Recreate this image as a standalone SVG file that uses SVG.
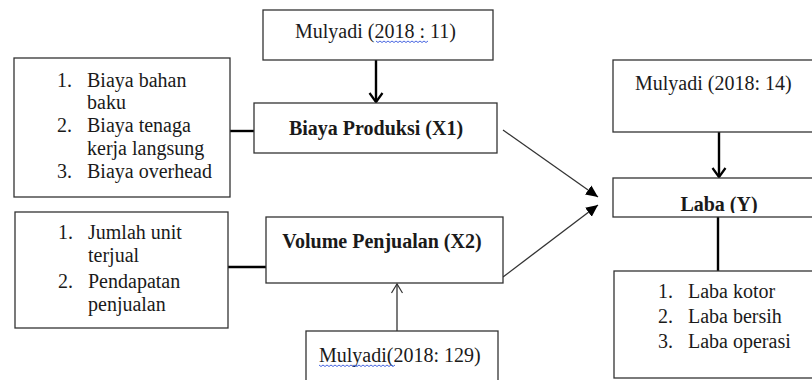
<svg xmlns="http://www.w3.org/2000/svg" width="812" height="380" viewBox="0 0 812 380">
<style>
.box{fill:#fff;stroke:#333;stroke-width:1.3}
.t{font-family:'Liberation Serif','DejaVu Serif',serif;font-size:20px;fill:#1a1a1a}
.b{font-family:'Liberation Serif','DejaVu Serif',serif;font-size:20px;font-weight:bold;fill:#1a1a1a}
.thick{stroke:#000;stroke-width:2.4;fill:none}
.thin{stroke:#333;stroke-width:1.3;fill:none}
.wavy{stroke:#3355dd;stroke-width:0.9;fill:none}
</style>
<defs>
<marker id="chev" viewBox="-11 -8 13 16" markerWidth="13" markerHeight="16" refX="0" refY="0" orient="auto" markerUnits="userSpaceOnUse">
<path d="M-9,-6.5 L0,0 L-9,6.5" fill="none" stroke="#000" stroke-width="2.2"/>
</marker>
<marker id="open" viewBox="-10 -7 12 14" markerWidth="12" markerHeight="14" refX="0" refY="0" orient="auto" markerUnits="userSpaceOnUse">
<path d="M-9,-5.5 L0,0 L-9,5.5" fill="none" stroke="#333" stroke-width="1.2"/>
</marker>
<marker id="tri" viewBox="-12 -7 13 14" markerWidth="13" markerHeight="14" refX="0" refY="0" orient="auto" markerUnits="userSpaceOnUse">
<path d="M0,0 L-12,-5.5 L-12,5.5 Z" fill="#000"/>
</marker>
<clipPath id="labaclip"><rect x="613" y="178" width="199" height="35"/></clipPath>
</defs>

<g id="connectors">
<line class="thick" x1="376" y1="60" x2="376" y2="102" marker-end="url(#chev)"/>
<line class="thick" x1="230" y1="131" x2="254" y2="131"/>
<line class="thick" x1="228" y1="267" x2="266" y2="267"/>
<line class="thin" x1="397" y1="331" x2="397" y2="284" marker-end="url(#open)"/>
<line class="thin" x1="503" y1="130" x2="598" y2="197" marker-end="url(#tri)"/>
<line class="thin" x1="503" y1="277" x2="598" y2="205" marker-end="url(#tri)"/>
<line class="thick" x1="719" y1="132" x2="719" y2="177" marker-end="url(#chev)"/>
<line class="thick" x1="718" y1="217" x2="718" y2="271"/>
</g>

<g id="mulyadi11">
<rect class="box" x="263" y="10" width="230" height="50"/>
<text class="t" x="295" y="38">Mulyadi (2018 : 11)</text>
<path class="wavy" d="M376,41 l2,1.5 l2,-1.5 l2,1.5 l2,-1.5 l2,1.5 l2,-1.5 l2,1.5 l2,-1.5 l2,1.5 l2,-1.5 l2,1.5 l2,-1.5 l2,1.5 l2,-1.5 l2,1.5 l2,-1.5 l2,1.5 l2,-1.5 l2,1.5 l2,-1.5 l2,1.5 l2,-1.5 l2,1.5 l2,-1.5 l2,1.5 l2,-1.5"/>
</g>

<g id="biayaProduksi">
<rect class="box" x="254" y="103" width="243" height="50"/>
<text class="b" x="376" y="135" text-anchor="middle">Biaya Produksi (X1)</text>
</g>

<g id="indikatorX1">
<rect class="box" x="14" y="58" width="216" height="139"/>
<text class="t" x="57" y="87">1.</text>
<text class="t" x="87" y="87">Biaya bahan</text>
<text class="t" x="87" y="109">baku</text>
<text class="t" x="57" y="132">2.</text>
<text class="t" x="87" y="132">Biaya tenaga</text>
<text class="t" x="87" y="155">kerja langsung</text>
<text class="t" x="57" y="178">3.</text>
<text class="t" x="87" y="178">Biaya overhead</text>
</g>

<g id="volumePenjualan">
<rect class="box" x="266" y="217" width="237" height="66"/>
<text class="b" x="382" y="248" text-anchor="middle">Volume Penjualan (X2)</text>
</g>

<g id="indikatorX2">
<rect class="box" x="15" y="212" width="213" height="116"/>
<text class="t" x="58" y="239">1.</text>
<text class="t" x="88" y="239">Jumlah unit</text>
<text class="t" x="88" y="262">terjual</text>
<text class="t" x="58" y="288">2.</text>
<text class="t" x="88" y="288">Pendapatan</text>
<text class="t" x="88" y="311">penjualan</text>
</g>

<g id="mulyadi129">
<rect class="box" x="306" y="331" width="192" height="60"/>
<text class="t" x="319" y="362">Mulyadi(2018: 129)</text>
<path class="wavy" d="M319,365 l2,1.5 l2,-1.5 l2,1.5 l2,-1.5 l2,1.5 l2,-1.5 l2,1.5 l2,-1.5 l2,1.5 l2,-1.5 l2,1.5 l2,-1.5 l2,1.5 l2,-1.5 l2,1.5 l2,-1.5 l2,1.5 l2,-1.5 l2,1.5 l2,-1.5 l2,1.5 l2,-1.5 l2,1.5 l2,-1.5 l2,1.5 l2,-1.5 l2,1.5 l2,-1.5 l2,1.5 l2,-1.5 l2,1.5 l2,-1.5 l2,1.5 l2,-1.5 l2,1.5 l2,-1.5 l2,1.5 l2,-1.5"/>
</g>

<g id="mulyadi14">
<rect class="box" x="613" y="60" width="210" height="72"/>
<text class="t" x="635" y="90">Mulyadi (2018: 14)</text>
</g>

<g id="laba">
<rect class="box" x="613" y="178" width="210" height="39"/>
<text class="b" x="719" y="211" text-anchor="middle" clip-path="url(#labaclip)">Laba (Y)</text>
</g>

<g id="indikatorY">
<rect class="box" x="614" y="271" width="210" height="107"/>
<text class="t" x="658" y="298">1.</text>
<text class="t" x="688" y="298">Laba kotor</text>
<text class="t" x="658" y="323">2.</text>
<text class="t" x="688" y="323">Laba bersih</text>
<text class="t" x="658" y="348">3.</text>
<text class="t" x="688" y="348">Laba operasi</text>
</g>
</svg>
